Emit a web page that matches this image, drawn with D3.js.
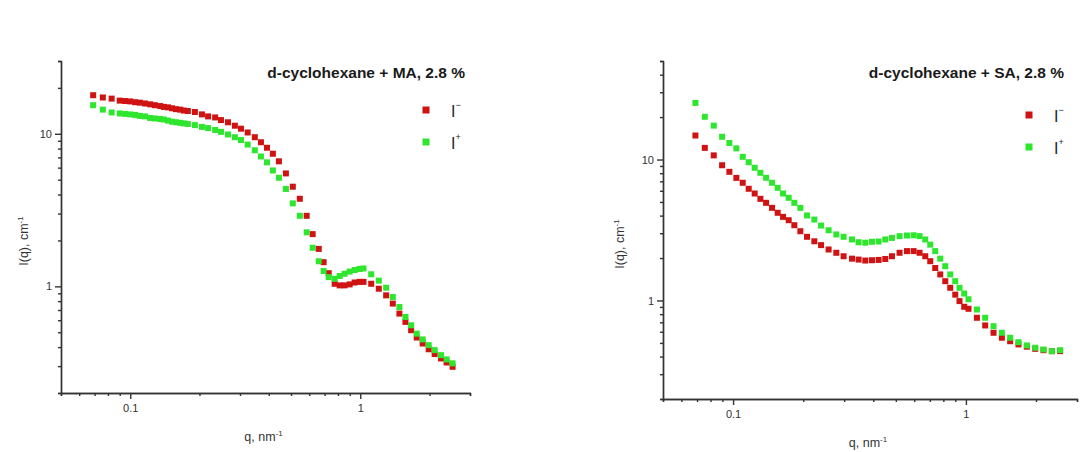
<!DOCTYPE html>
<html>
<head>
<meta charset="utf-8">
<script src="https://cdn.jsdelivr.net/npm/d3@7"></script>
<style>
  body { margin: 0; background: #fff; }
  svg { display: block; font-family: Arial, "Liberation Sans", sans-serif; }
  .axis path, .axis line { stroke: #333; stroke-width: 1.4; }
  .axis text { fill: #333; font-size: 11px; }
</style>
</head>
<body>
<div id="chart"></div>
<script>
// left panel : d-cyclohexane + MA
const qLeft = [0.069, 0.076, 0.083, 0.090, 0.095, 0.100, 0.105, 0.110, 0.116, 0.122, 0.128, 0.135, 0.140, 0.146, 0.152, 0.158, 0.165, 0.171, 0.178,
  0.191, 0.205, 0.218, 0.234, 0.248, 0.266, 0.285, 0.303, 0.324, 0.348, 0.370, 0.393, 0.417, 0.443, 0.475, 0.509, 0.546, 0.585, 0.621, 0.660, 0.693, 0.729,
  0.774, 0.814, 0.855, 0.899, 0.945, 0.993, 1.033,
  1.116, 1.204, 1.296, 1.385, 1.480, 1.572, 1.664, 1.760, 1.868, 1.984, 2.106, 2.245, 2.374, 2.520];
const iMinusLeft = [17.9, 17.3, 17.0, 16.5, 16.4, 16.3, 16.1, 16.0, 15.8, 15.6, 15.4, 15.2, 15.0, 14.9, 14.7, 14.5, 14.4, 14.2, 14.1,
  13.9, 13.4, 13.0, 12.8, 12.3, 11.9, 11.3, 10.8, 10.2, 9.5, 8.8, 8.1, 7.4, 6.6, 5.5, 4.5, 3.75, 2.9, 2.2, 1.76, 1.44, 1.22,
  1.04, 1.015, 1.015, 1.03, 1.06, 1.07, 1.07,
  1.04, 0.965, 0.873, 0.771, 0.663, 0.585, 0.516, 0.462, 0.422, 0.387, 0.360, 0.337, 0.317, 0.297];
const iPlusLeft = [15.4, 14.4, 13.8, 13.6, 13.5, 13.4, 13.3, 13.1, 13.0, 12.7, 12.6, 12.5, 12.4, 12.2, 12.0, 11.9, 11.8, 11.7, 11.6,
  11.4, 11.1, 10.9, 10.6, 10.3, 9.9, 9.5, 9.1, 8.5, 7.8, 7.1, 6.5, 5.75, 5.15, 4.35, 3.5, 2.9, 2.26, 1.79, 1.46, 1.26, 1.15,
  1.12, 1.17, 1.21, 1.25, 1.28, 1.30, 1.31,
  1.20, 1.09, 0.98, 0.851, 0.732, 0.630, 0.556, 0.490, 0.449, 0.412, 0.382, 0.354, 0.332, 0.313];

// right panel : d-cyclohexane + SA
const qRight = [0.0689, 0.0756, 0.0826, 0.0897, 0.0964, 0.1033, 0.110, 0.1167, 0.1238, 0.131, 0.1386, 0.147, 0.1554, 0.1639, 0.1733, 0.1833, 0.1945,
  0.2078, 0.2234, 0.2387, 0.2572, 0.2776, 0.2983, 0.3242, 0.346, 0.3697, 0.395, 0.4217, 0.4505, 0.4813, 0.5188, 0.5582, 0.596, 0.6323, 0.6689,
  0.7028, 0.7384, 0.776, 0.8153, 0.8564, 0.8999, 0.9386, 0.9834, 1.026,
  1.115, 1.210, 1.314, 1.427, 1.549, 1.682, 1.827, 1.984, 2.153, 2.339, 2.539];
const iMinusRight = [14.8, 12.1, 10.7, 9.11, 8.18, 7.41, 6.84, 6.20, 5.74, 5.26, 4.93, 4.54, 4.19, 3.92, 3.71, 3.42, 3.10,
  2.83, 2.63, 2.47, 2.30, 2.18, 2.06, 1.98, 1.95, 1.92, 1.93, 1.94, 1.97, 2.06, 2.18, 2.24, 2.24, 2.18, 2.06,
  1.90, 1.70, 1.53, 1.37, 1.23, 1.10, 0.99, 0.902, 0.873,
  0.754, 0.665, 0.590, 0.544, 0.514, 0.488, 0.470, 0.454, 0.444, 0.437, 0.437];
const iPlusRight = [25.2, 20.1, 17.4, 14.5, 13.1, 12.0, 10.45, 9.57, 8.74, 8.05, 7.42, 6.84, 6.30, 5.74, 5.35, 4.93, 4.54,
  4.01, 3.75, 3.40, 3.15, 2.94, 2.83, 2.71, 2.59, 2.57, 2.61, 2.62, 2.71, 2.78, 2.86, 2.89, 2.90, 2.86, 2.71,
  2.49, 2.24, 1.98, 1.75, 1.53, 1.37, 1.23, 1.12, 1.02,
  0.863, 0.754, 0.657, 0.590, 0.544, 0.506, 0.480, 0.462, 0.449, 0.437, 0.444];

const xMajor = [0.1, 1];
const xMinor = [0.05, 0.06, 0.07, 0.08, 0.09, 0.2, 0.3, 0.4, 0.5, 0.6, 0.7, 0.8, 0.9, 2, 3];
const yMajor = [1, 10];
const yMinorLeft = [0.2, 0.3, 0.4, 0.5, 0.6, 0.7, 0.8, 0.9, 2, 3, 4, 5, 6, 7, 8, 9, 20, 30];
const yMinorRight = [0.2, 0.3, 0.4, 0.5, 0.6, 0.7, 0.8, 0.9, 2, 3, 4, 5, 6, 7, 8, 9, 20, 30, 40, 50];

const colMinus = "#cf1212",
      colPlus = "#2ee62e";

let width = 1080,
    height = 452;
let svg = d3.select("div#chart").append("svg")
            .attr("width", width)
            .attr("height", height);

function drawPanel(p) {
  let x = d3.scaleLog().domain([0.05, 3]).range([p.left, p.right]);
  let y = d3.scaleLog().domain(p.yDomain).range([p.bottom, p.top]);
  let g = svg.append("g");

  // minor ticks first, then major with labels
  g.append("g").attr("class", "axis")
    .attr("transform", "translate(0," + p.bottom + ")")
    .call(d3.axisBottom(x).tickValues(xMinor).tickSize(3).tickFormat(""));
  g.append("g").attr("class", "axis")
    .attr("transform", "translate(0," + p.bottom + ")")
    .call(d3.axisBottom(x).tickValues(xMajor).tickSize(6).tickSizeOuter(0).tickPadding(5).tickFormat(d3.format("~g")));
  g.append("g").attr("class", "axis")
    .attr("transform", "translate(" + p.left + ",0)")
    .call(d3.axisLeft(y).tickValues(p.yMinor).tickSize(3).tickFormat(""));
  g.append("g").attr("class", "axis")
    .attr("transform", "translate(" + p.left + ",0)")
    .call(d3.axisLeft(y).tickValues(yMajor).tickSize(6).tickSizeOuter(0).tickPadding(3).tickFormat(d3.format("~g")));

  let s = 6;
  [[p.iMinus, colMinus], [p.iPlus, colPlus]].forEach(function(ser) {
    g.append("g").selectAll("rect")
      .data(p.q.map(function(q, i) { return {q: q, v: ser[0][i]}; }))
      .enter().append("rect")
      .attr("x", function(d) { return x(d.q) - s / 2; })
      .attr("y", function(d) { return y(d.v) - s / 2; })
      .attr("width", s)
      .attr("height", s)
      .style("fill", ser[1]);
  });

  // title
  g.append("text")
    .attr("x", p.titleX)
    .attr("y", p.top + 17)
    .attr("text-anchor", "end")
    .style("font-size", "15.5px")
    .style("font-weight", "bold")
    .style("fill", "#1a1a1a")
    .text(p.title);

  // legend
  [["−", colMinus, 0], ["+", colPlus, 32]].forEach(function(l) {
    g.append("rect")
      .attr("x", p.legX - 3.5).attr("y", p.legY + l[2] - 3.5)
      .attr("width", 7).attr("height", 7)
      .style("fill", l[1]);
    let t = g.append("text")
      .attr("x", p.legX + 25).attr("y", p.legY + l[2] + 7)
      .style("font-size", "16px")
      .style("fill", "#222");
    t.append("tspan").text("I");
    t.append("tspan").attr("dy", -9).style("font-size", "9px").text(l[0]);
  });

  // axis titles
  let xl = g.append("text")
    .attr("x", (p.left + p.right) / 2 - 2)
    .attr("y", p.bottom + 48)
    .attr("text-anchor", "middle")
    .style("font-size", "12.5px")
    .style("fill", "#333");
  xl.append("tspan").text("q, nm");
  xl.append("tspan").attr("dy", -5).style("font-size", "8px").text("-1");

  let yl = g.append("text")
    .attr("transform", "translate(" + p.yLabX + "," + ((p.top + p.bottom) / 2 + 14) + ") rotate(-90)")
    .attr("text-anchor", "middle")
    .style("font-size", "12.5px")
    .style("fill", "#333");
  yl.append("tspan").text("I(q), cm");
  yl.append("tspan").attr("dy", -5).style("font-size", "8px").text("-1");
}

drawPanel({left: 61, right: 470, top: 61, bottom: 393, yDomain: [0.2, 30], yMinor: yMinorLeft,
  q: qLeft, iMinus: iMinusLeft, iPlus: iPlusLeft, title: "d-cyclohexane + MA, 2.8 %",
  titleX: 465, legX: 426, legY: 110, yLabX: 28});
drawPanel({left: 663, right: 1077, top: 61, bottom: 399, yDomain: [0.2, 50], yMinor: yMinorRight,
  q: qRight, iMinus: iMinusRight, iPlus: iPlusRight, title: "d-cyclohexane + SA, 2.8 %",
  titleX: 1064, legX: 1029, legY: 115, yLabX: 624});
</script>
</body>
</html>
